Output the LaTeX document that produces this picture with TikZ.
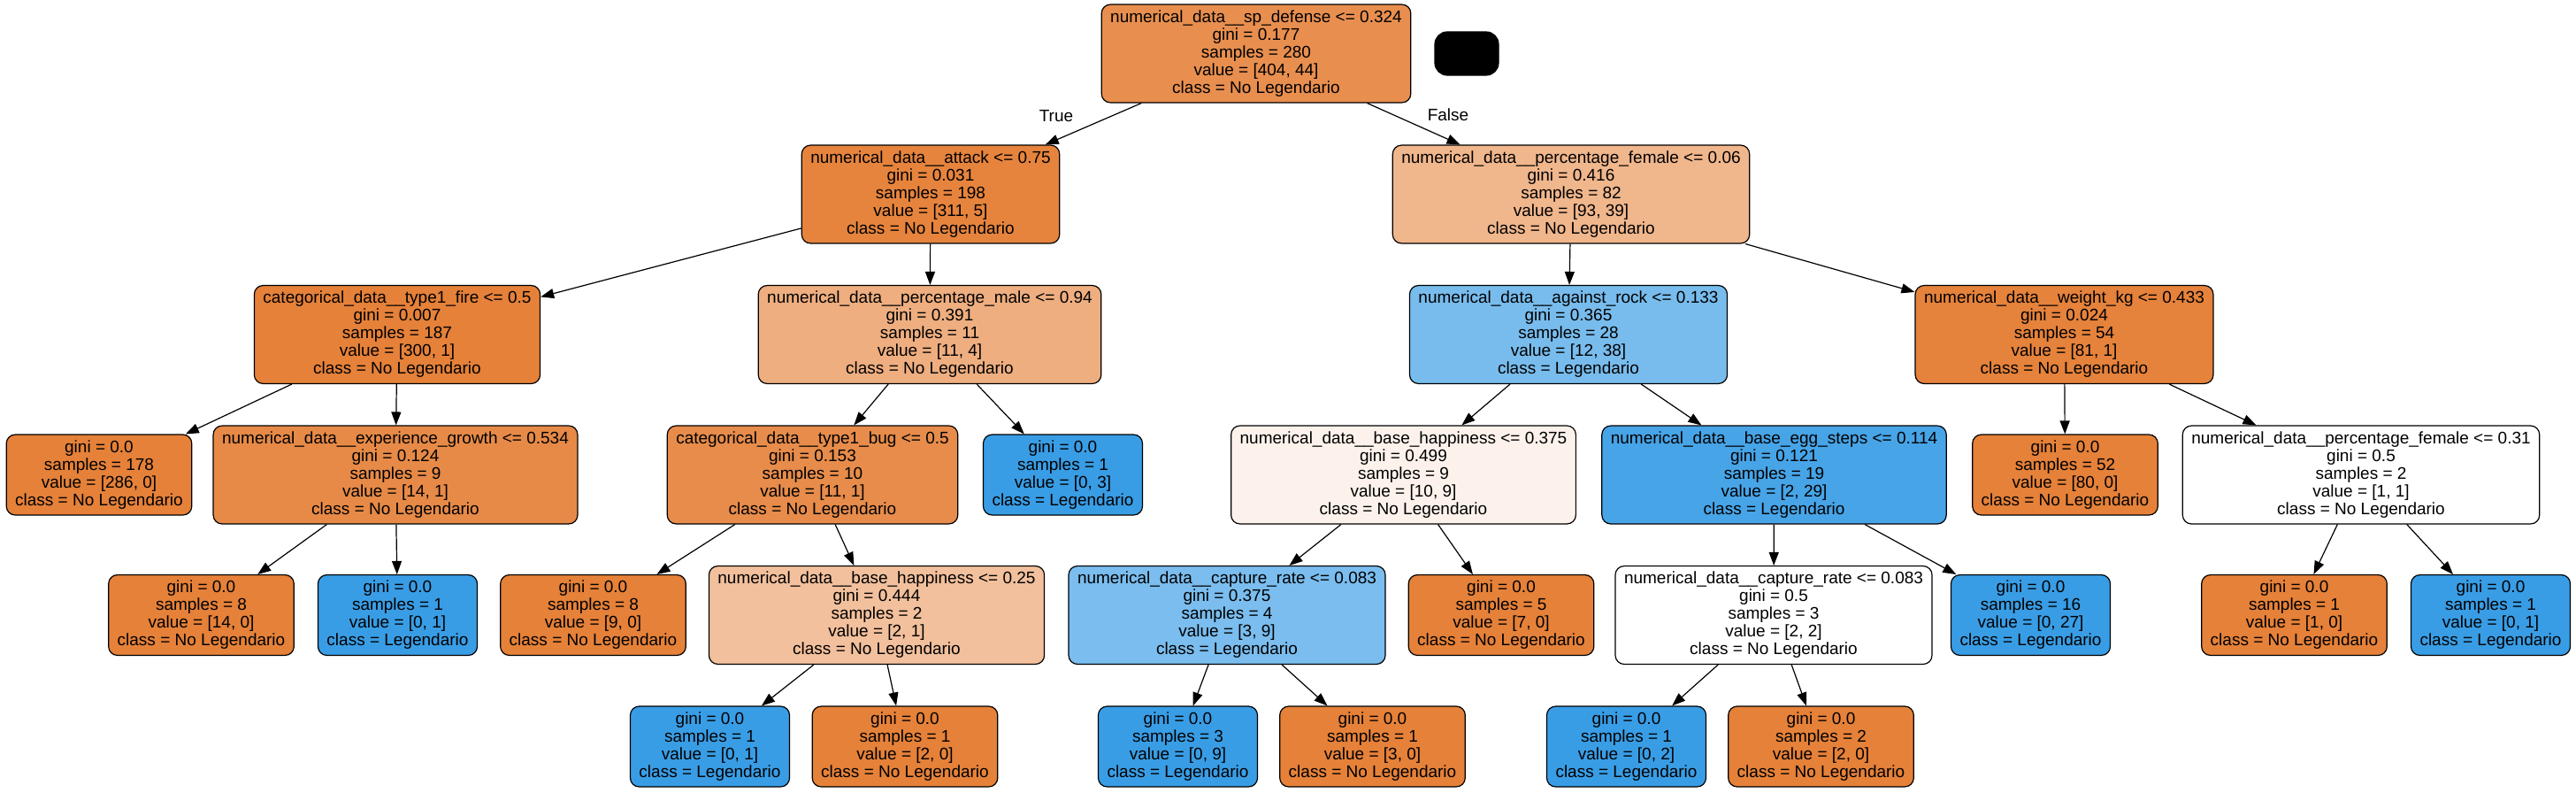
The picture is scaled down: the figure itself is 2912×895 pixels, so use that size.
\documentclass[tikz,border=0pt]{standalone}
\usepackage{fontspec}
\setmainfont{Liberation Sans}
\usetikzlibrary{arrows.meta}

\definecolor{clsno}{HTML}{E58139}
\definecolor{clsyes}{HTML}{399DE5}

\begin{document}
\begin{tikzpicture}[x=0.5pt,y=-0.5pt,line width=0.6pt,
font=\fontsize{9.5}{10}\selectfont,
>={Triangle[length=7.5pt,width=5.5pt]},
treebox/.style={draw,rectangle,rounded corners=5pt,align=center,inner xsep=5pt,inner ysep=3.3pt,line width=0.6pt},
nobox/.style={treebox,fill=clsno!#1},
yesbox/.style={treebox,fill=clsyes!#1},
branchlbl/.style={inner sep=0pt}]

\useasboundingbox (0,0) rectangle (2912,895);

% level 0
\draw (1420,60.5) node[nobox=89] (N0) {numerical\_data\_\_sp\_defense <= 0.324\\gini = 0.177\\samples = 280\\value = [404, 44]\\class = No Legendario};
\draw (1658,60.5) node[draw,fill=black,rounded corners=7pt,minimum width=36pt,minimum height=24.5pt] (BLK) {};

% level 1
\draw (1052,219.5) node[nobox=98] (N1) {numerical\_data\_\_attack <= 0.75\\gini = 0.031\\samples = 198\\value = [311, 5]\\class = No Legendario};
\draw (1776,219.5) node[nobox=58] (N2) {numerical\_data\_\_percentage\_female <= 0.06\\gini = 0.416\\samples = 82\\value = [93, 39]\\class = No Legendario};

% level 2
\draw (449,378) node[nobox=100] (N3) {categorical\_data\_\_type1\_fire <= 0.5\\gini = 0.007\\samples = 187\\value = [300, 1]\\class = No Legendario};
\draw (1051,378) node[nobox=64] (N4) {numerical\_data\_\_percentage\_male <= 0.94\\gini = 0.391\\samples = 11\\value = [11, 4]\\class = No Legendario};
\draw (1773,378) node[yesbox=68] (N5) {numerical\_data\_\_against\_rock <= 0.133\\gini = 0.365\\samples = 28\\value = [12, 38]\\class = Legendario};
\draw (2333.5,378) node[nobox=99] (N6) {numerical\_data\_\_weight\_kg <= 0.433\\gini = 0.024\\samples = 54\\value = [81, 1]\\class = No Legendario};

% level 3
\draw (112,536.5) node[nobox=100] (N7) {gini = 0.0\\samples = 178\\value = [286, 0]\\class = No Legendario};
\draw (447,536.5) node[nobox=93] (N8) {numerical\_data\_\_experience\_growth <= 0.534\\gini = 0.124\\samples = 9\\value = [14, 1]\\class = No Legendario};
\draw (918.5,536.5) node[nobox=91] (N9) {categorical\_data\_\_type1\_bug <= 0.5\\gini = 0.153\\samples = 10\\value = [11, 1]\\class = No Legendario};
\draw (1201.5,536.5) node[yesbox=100] (N10) {gini = 0.0\\samples = 1\\value = [0, 3]\\class = Legendario};
\draw (1586.5,536.5) node[nobox=10] (N11) {numerical\_data\_\_base\_happiness <= 0.375\\gini = 0.499\\samples = 9\\value = [10, 9]\\class = No Legendario};
\draw (2005.5,536.5) node[yesbox=93] (N12) {numerical\_data\_\_base\_egg\_steps <= 0.114\\gini = 0.121\\samples = 19\\value = [2, 29]\\class = Legendario};
\draw (2334.5,536.5) node[nobox=100] (N13) {gini = 0.0\\samples = 52\\value = [80, 0]\\class = No Legendario};
\draw (2669,536.5) node[nobox=0] (N14) {numerical\_data\_\_percentage\_female <= 0.31\\gini = 0.5\\samples = 2\\value = [1, 1]\\class = No Legendario};

% level 4
\draw (227.5,695) node[nobox=100] (N15) {gini = 0.0\\samples = 8\\value = [14, 0]\\class = No Legendario};
\draw (449.5,695) node[yesbox=100] (N16) {gini = 0.0\\samples = 1\\value = [0, 1]\\class = Legendario};
\draw (670.5,695) node[nobox=100] (N17) {gini = 0.0\\samples = 8\\value = [9, 0]\\class = No Legendario};
\draw (991,695) node[nobox=50] (N18) {numerical\_data\_\_base\_happiness <= 0.25\\gini = 0.444\\samples = 2\\value = [2, 1]\\class = No Legendario};
\draw (1387,695) node[yesbox=67] (N19) {numerical\_data\_\_capture\_rate <= 0.083\\gini = 0.375\\samples = 4\\value = [3, 9]\\class = Legendario};
\draw (1697,695) node[nobox=100] (N20) {gini = 0.0\\samples = 5\\value = [7, 0]\\class = No Legendario};
\draw (2005,695) node[nobox=0] (N21) {numerical\_data\_\_capture\_rate <= 0.083\\gini = 0.5\\samples = 3\\value = [2, 2]\\class = No Legendario};
\draw (2295.5,695) node[yesbox=100] (N22) {gini = 0.0\\samples = 16\\value = [0, 27]\\class = Legendario};
\draw (2593.5,695) node[nobox=100] (N23) {gini = 0.0\\samples = 1\\value = [1, 0]\\class = No Legendario};
\draw (2815.5,695) node[yesbox=100] (N24) {gini = 0.0\\samples = 1\\value = [0, 1]\\class = Legendario};

% level 5
\draw (802.5,843.5) node[yesbox=100] (N25) {gini = 0.0\\samples = 1\\value = [0, 1]\\class = Legendario};
\draw (1023,843.5) node[nobox=100] (N26) {gini = 0.0\\samples = 1\\value = [2, 0]\\class = No Legendario};
\draw (1331.5,843.5) node[yesbox=100] (N27) {gini = 0.0\\samples = 3\\value = [0, 9]\\class = Legendario};
\draw (1551.5,843.5) node[nobox=100] (N28) {gini = 0.0\\samples = 1\\value = [3, 0]\\class = No Legendario};
\draw (1838.5,843.5) node[yesbox=100] (N29) {gini = 0.0\\samples = 1\\value = [0, 2]\\class = Legendario};
\draw (2058.5,843.5) node[nobox=100] (N30) {gini = 0.0\\samples = 2\\value = [2, 0]\\class = No Legendario};

% branches
\draw[->] (N0) -- (N1);
\draw[->] (N0) -- (N2);
\draw (1194,131) node[branchlbl] (TL) {True};
\draw (1637,130) node[branchlbl] (FL) {False};
\draw[->] (N1) -- (N3);
\draw[->] (N1) -- (N4);
\draw[->] (N2) -- (N5);
\draw[->] (N2) -- (N6);
\draw[->] (N3) -- (N7);
\draw[->] (N3) -- (N8);
\draw[->] (N4) -- (N9);
\draw[->] (N4) -- (N10);
\draw[->] (N5) -- (N11);
\draw[->] (N5) -- (N12);
\draw[->] (N6) -- (N13);
\draw[->] (N6) -- (N14);
\draw[->] (N8) -- (N15);
\draw[->] (N8) -- (N16);
\draw[->] (N9) -- (N17);
\draw[->] (N9) -- (N18);
\draw[->] (N11) -- (N19);
\draw[->] (N11) -- (N20);
\draw[->] (N12) -- (N21);
\draw[->] (N12) -- (N22);
\draw[->] (N14) -- (N23);
\draw[->] (N14) -- (N24);
\draw[->] (N18) -- (N25);
\draw[->] (N18) -- (N26);
\draw[->] (N19) -- (N27);
\draw[->] (N19) -- (N28);
\draw[->] (N21) -- (N29);
\draw[->] (N21) -- (N30);

\end{tikzpicture}
\end{document}
